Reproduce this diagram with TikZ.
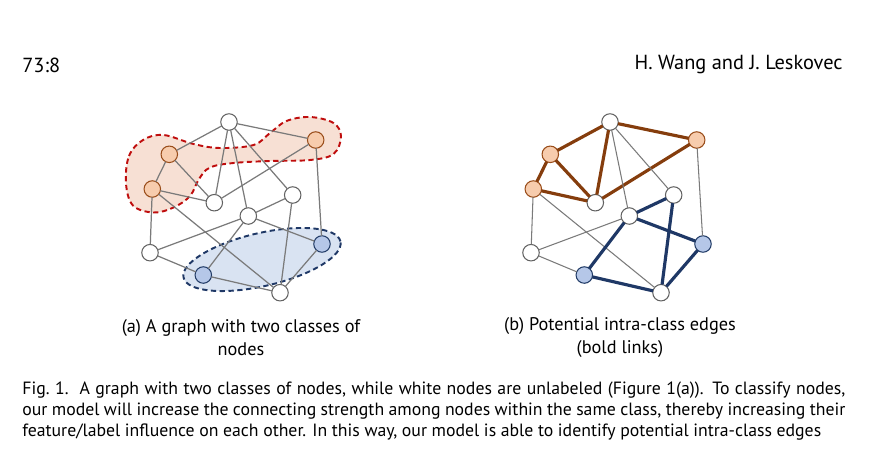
\documentclass[tikz,border=0pt]{standalone}
\usepackage{xcolor}
\usepackage{tkz-graph}
\usepackage{fontspec}
\setmainfont{PT Sans}

\begin{document}
\begin{tikzpicture}
\definecolor{cvw}{rgb}{0.38,0.38,0.38}
\definecolor{cfvw}{rgb}{1.0,1.0,1.0}
\definecolor{cvo}{rgb}{0.60,0.30,0.10}
\definecolor{cfvo}{rgb}{0.97,0.80,0.68}
\definecolor{cvb}{rgb}{0.13,0.23,0.40}
\definecolor{cfvb}{rgb}{0.71,0.78,0.91}
\definecolor{ce}{rgb}{0.48,0.48,0.48}
\definecolor{ceo}{rgb}{0.52,0.24,0.05}
\definecolor{ceb}{rgb}{0.12,0.22,0.40}
\definecolor{chullo}{rgb}{0.97,0.88,0.83}
\definecolor{clhullo}{rgb}{0.75,0.05,0.05}
\definecolor{chullb}{rgb}{0.85,0.89,0.95}
\definecolor{clhullb}{rgb}{0.12,0.22,0.40}
\tikzset{
  vw/.style={minimum size=0.33cm,inner sep=0pt,outer sep=0pt,line width=0.6pt,draw=cvw,fill=cfvw,shape=circle},
  vo/.style={minimum size=0.33cm,inner sep=0pt,outer sep=0pt,line width=0.6pt,draw=cvo,fill=cfvo,shape=circle},
  vb/.style={minimum size=0.33cm,inner sep=0pt,outer sep=0pt,line width=0.6pt,draw=cvb,fill=cfvb,shape=circle},
  hull/.style={line width=1.1pt,dash pattern=on 3pt off 2pt},
  txt/.style={inner sep=0pt,font=\fontsize{10.1}{12}\selectfont}
}
\useasboundingbox (0,0) rectangle (17.46,9.02);
%
\node[txt,anchor=west,font=\fontsize{11.6}{13}\selectfont] (page) at (0.44,7.72) {73:8};
\node[txt,anchor=east,font=\fontsize{11.6}{13}\selectfont] (authors) at (16.86,7.72) {H. Wang and J. Leskovec};
%
\path[hull,fill=chullo,draw=clhullo] plot[smooth cycle,tension=0.6] coordinates {
  (2.52,5.35) (2.58,5.90) (2.86,6.22) (3.27,6.32) (3.87,6.14) (4.40,6.06)
  (5.07,6.12) (5.40,6.36) (5.73,6.60) (6.20,6.68) (6.67,6.56) (6.82,6.29)
  (6.67,5.94) (6.20,5.82) (5.40,5.80) (4.67,5.76) (4.20,5.67) (3.98,5.44)
  (3.80,5.10) (3.47,4.87) (3.07,4.77) (2.66,4.91)};
\draw[hull,fill=chullb,draw=clhullb,rotate around={13:(5.24,3.83)}] (5.24,3.83) ellipse (1.61cm and 0.53cm);
%
\tikzset{VertexStyle/.style={vw}}
\Vertex[LabelOut=false,L=\hbox{},x=4.58cm,y=6.58cm]{v0}
\Vertex[LabelOut=false,L=\hbox{},x=4.286cm,y=4.966cm]{v4}
\Vertex[LabelOut=false,L=\hbox{},x=5.854cm,y=5.12cm]{v5}
\Vertex[LabelOut=false,L=\hbox{},x=4.966cm,y=4.70cm]{v6}
\Vertex[LabelOut=false,L=\hbox{},x=3.0cm,y=3.966cm]{v7}
\Vertex[LabelOut=false,L=\hbox{},x=5.6cm,y=3.166cm]{v10}
\Vertex[LabelOut=false,L=\hbox{},x=12.2cm,y=6.58cm]{u0}
\Vertex[LabelOut=false,L=\hbox{},x=11.906cm,y=4.966cm]{u4}
\Vertex[LabelOut=false,L=\hbox{},x=13.474cm,y=5.12cm]{u5}
\Vertex[LabelOut=false,L=\hbox{},x=12.586cm,y=4.70cm]{u6}
\Vertex[LabelOut=false,L=\hbox{},x=10.62cm,y=3.966cm]{u7}
\Vertex[LabelOut=false,L=\hbox{},x=13.22cm,y=3.166cm]{u10}
\tikzset{VertexStyle/.style={vo}}
\Vertex[LabelOut=false,L=\hbox{},x=3.386cm,y=5.934cm]{v1}
\Vertex[LabelOut=false,L=\hbox{},x=3.046cm,y=5.24cm]{v2}
\Vertex[LabelOut=false,L=\hbox{},x=6.314cm,y=6.22cm]{v3}
\Vertex[LabelOut=false,L=\hbox{},x=11.006cm,y=5.934cm]{u1}
\Vertex[LabelOut=false,L=\hbox{},x=10.666cm,y=5.24cm]{u2}
\Vertex[LabelOut=false,L=\hbox{},x=13.934cm,y=6.22cm]{u3}
\tikzset{VertexStyle/.style={vb}}
\Vertex[LabelOut=false,L=\hbox{},x=6.44cm,y=4.14cm]{v8}
\Vertex[LabelOut=false,L=\hbox{},x=4.066cm,y=3.52cm]{v9}
\Vertex[LabelOut=false,L=\hbox{},x=14.06cm,y=4.14cm]{u8}
\Vertex[LabelOut=false,L=\hbox{},x=11.686cm,y=3.52cm]{u9}
%
\Edge[lw=0.7pt,style={color=ce}](v0)(v1)
\Edge[lw=0.7pt,style={color=ce}](v0)(v3)
\Edge[lw=0.7pt,style={color=ce}](v0)(v4)
\Edge[lw=0.7pt,style={color=ce}](v0)(v6)
\Edge[lw=0.7pt,style={color=ce}](v0)(v5)
\Edge[lw=0.7pt,style={color=ce}](v1)(v2)
\Edge[lw=0.7pt,style={color=ce}](v1)(v4)
\Edge[lw=0.7pt,style={color=ce}](v2)(v4)
\Edge[lw=0.7pt,style={color=ce}](v2)(v7)
\Edge[lw=0.7pt,style={color=ce}](v2)(v10)
\Edge[lw=0.7pt,style={color=ce}](v4)(v3)
\Edge[lw=0.7pt,style={color=ce}](v3)(v8)
\Edge[lw=0.7pt,style={color=ce}](v5)(v6)
\Edge[lw=0.7pt,style={color=ce}](v5)(v10)
\Edge[lw=0.7pt,style={color=ce}](v6)(v7)
\Edge[lw=0.7pt,style={color=ce}](v6)(v9)
\Edge[lw=0.7pt,style={color=ce}](v6)(v8)
\Edge[lw=0.7pt,style={color=ce}](v7)(v9)
\Edge[lw=0.7pt,style={color=ce}](v9)(v10)
\Edge[lw=0.7pt,style={color=ce}](v8)(v10)
%
\Edge[lw=1.8pt,style={color=ceo}](u0)(u1)
\Edge[lw=1.8pt,style={color=ceo}](u0)(u3)
\Edge[lw=1.8pt,style={color=ceo}](u0)(u4)
\Edge[lw=1.8pt,style={color=ceo}](u1)(u2)
\Edge[lw=1.8pt,style={color=ceo}](u1)(u4)
\Edge[lw=1.8pt,style={color=ceo}](u2)(u4)
\Edge[lw=1.8pt,style={color=ceo}](u4)(u3)
\Edge[lw=0.6pt,style={color=ce}](u0)(u6)
\Edge[lw=0.6pt,style={color=ce}](u0)(u5)
\Edge[lw=0.6pt,style={color=ce}](u3)(u8)
\Edge[lw=0.6pt,style={color=ce}](u2)(u7)
\Edge[lw=0.6pt,style={color=ce}](u2)(u10)
\Edge[lw=0.6pt,style={color=ce}](u6)(u7)
\Edge[lw=0.6pt,style={color=ce}](u7)(u9)
\Edge[lw=1.8pt,style={color=ceb}](u5)(u6)
\Edge[lw=1.8pt,style={color=ceb}](u5)(u10)
\Edge[lw=1.8pt,style={color=ceb}](u6)(u9)
\Edge[lw=1.8pt,style={color=ceb}](u6)(u8)
\Edge[lw=1.8pt,style={color=ceb}](u9)(u10)
\Edge[lw=1.8pt,style={color=ceb}](u8)(u10)
%
\node[txt,align=center,font=\fontsize{10.4}{13}\selectfont] (capa) at (4.82,2.27) {(a) A graph with two classes of\\nodes};
\node[txt,align=center,font=\fontsize{10.4}{13}\selectfont] (capb) at (12.40,2.27) {(b) Potential intra-class edges\\(bold links)};
\node[txt,anchor=west,text width=16.46cm,align=justify] (figcap) at (0.44,0.80) {\parfillskip=0pt
\spaceskip=0.26em plus 0.3em minus 0.12em
Fig.~1.\ \ A graph with two classes of nodes, while white nodes are unlabeled (Figure 1(a)). To classify nodes,\linebreak
our model will increase the connecting strength among nodes within the same class, thereby increasing their\linebreak
feature/label influence on each other. In this way, our model is able to identify potential intra-class edges};
%
\end{tikzpicture}
\end{document}
